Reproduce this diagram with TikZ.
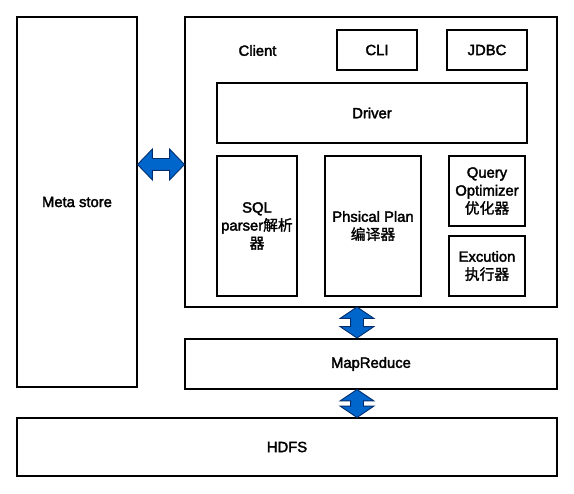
\documentclass[tikz,border=0pt]{standalone}
\usepackage{fontspec}
\setmainfont{Liberation Sans}[FakeBold=2.4]
\newfontfamily\cjk{Noto Sans CJK SC}[FakeBold=1.5]
\usepackage{tikz}
\usetikzlibrary{shapes.arrows}
\usetikzlibrary{positioning}
\definecolor{arrowblue}{RGB}{0,102,204}
\definecolor{arrowedge}{RGB}{0,45,110}
\tikzset{
    part/.style={
           rectangle,
           draw=black, line width=1.5pt,
           inner sep=2pt,
           align=center,
           font=\fontsize{14.8}{18}\selectfont,
           },
    flow/.style={
           double arrow,
           draw=arrowedge, line width=0.9pt,
           fill=arrowblue,
           inner xsep=0pt,
           },
}

\begin{document}
\begin{tikzpicture}[x=1pt,y=-1pt]
 \useasboundingbox (0,0) rectangle (574,494);

 % left column
 \node[part, minimum width=120, minimum height=370] (meta) at (77,202) {Meta store};

 % hive box
 \node[part, minimum width=372, minimum height=290] (hive) at (371,162) {};
 \node[font=\fontsize{14.8}{18}\selectfont] (client) at (257.5,50.5) {Client};
 \node[part, minimum width=80, minimum height=40] (cli) at (377,50) {CLI};
 \node[part, minimum width=80, minimum height=40] (jdbc) at (487,50) {JDBC};
 \node[part, minimum width=310, minimum height=60] (driver) at (372,113) {Driver};
 \node[part, minimum width=80, minimum height=140] (parser) at (257,226)
  {SQL\\parser{\cjk 解析}\\{\cjk 器}};
 \node[part, minimum width=96, minimum height=140] (plan) at (373,226)
  {Phsical Plan\\{\cjk 编译器}};
 \node[part, minimum width=76, minimum height=70] (optim) at (487,191)
  {Query\\Optimizer\\{\cjk 优化器}};
 \node[part, minimum width=76, minimum height=60] (exec) at (487,266)
  {Excution\\{\cjk 执行器}};

 % bottom layers
 \node[part, minimum width=372, minimum height=50] (mr) at (371,364) {MapReduce};
 \node[part, minimum width=540, minimum height=58] (hdfs) at (287,447) {HDFS};

 % links
 \node[flow, minimum height=47, inner ysep=5.5pt, double arrow head extend=9.5pt,
       double arrow tip angle=92] (l1) at (161,164.5) {};
 \node[flow, rotate=90, minimum height=31, inner ysep=6pt, double arrow head extend=10.5pt,
       double arrow tip angle=112] (l2) at (357,322.5) {};
 \node[flow, rotate=90, minimum height=28, inner ysep=6pt, double arrow head extend=10.5pt,
       double arrow tip angle=112] (l3) at (357,403.5) {};

\end{tikzpicture}
\end{document}
